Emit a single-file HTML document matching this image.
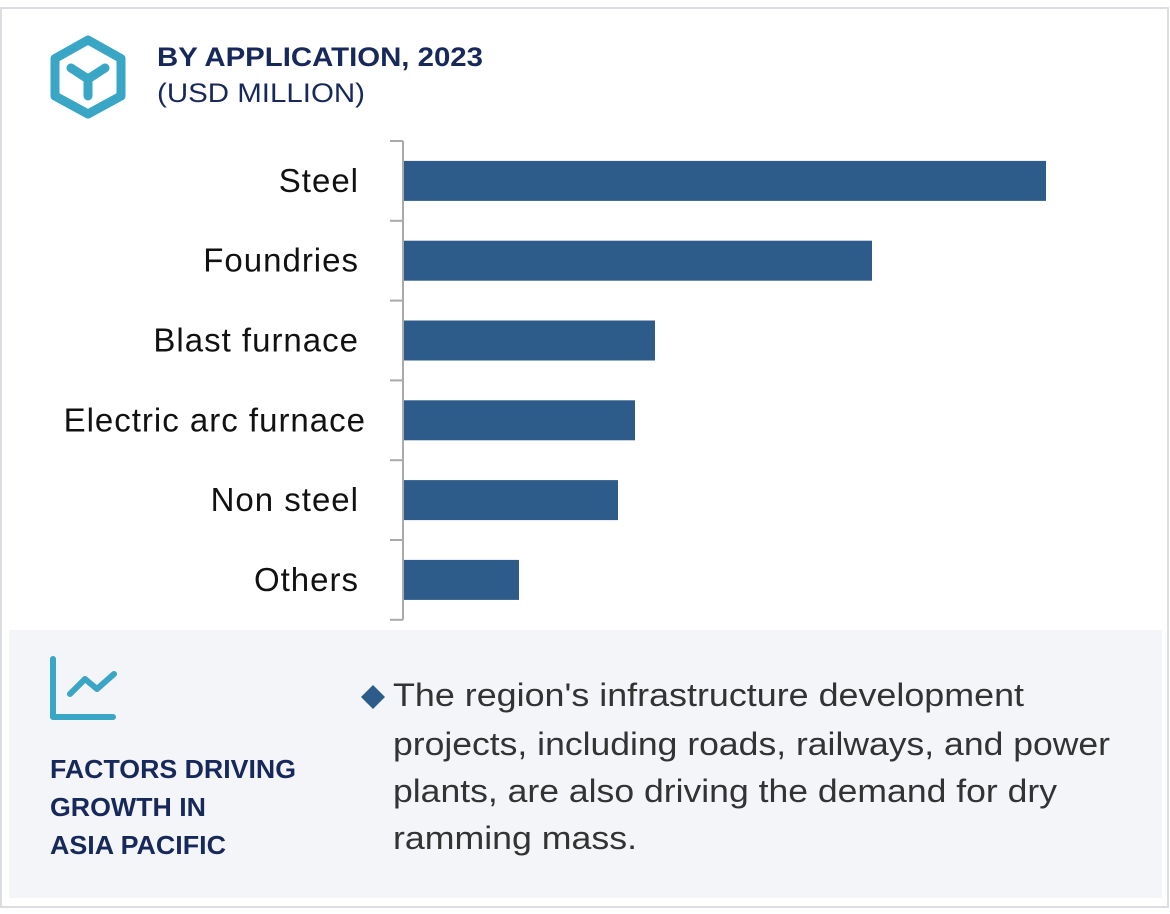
<!DOCTYPE html>
<html><head><meta charset="utf-8"><style>
body{margin:0;width:1170px;height:909px;background:#fff;font-family:"Liberation Sans",sans-serif;overflow:hidden}
</style></head><body>
<svg width="1170" height="909" xmlns="http://www.w3.org/2000/svg">
<rect x="1" y="8" width="1167" height="899" fill="#fff" stroke="#dcdde2" stroke-width="2"/>
<g fill="none" stroke="#3aa6c6" stroke-linecap="round">
<polygon points="88,40 121,58.5 121,96 88,114 55,96 55,58.5" stroke-width="9" stroke-linejoin="round"/>
<path d="M71,68 L88,79 L105,68 M88,79 L88,96" stroke-width="9"/>
</g>
<text x="157" y="66" font-size="27" font-weight="bold" fill="#17295a" textLength="326" lengthAdjust="spacingAndGlyphs">BY APPLICATION, 2023</text>
<text x="157" y="102" font-size="27" fill="#17295a" textLength="208" lengthAdjust="spacingAndGlyphs">(USD MILLION)</text>
<g id="plot"></g>
<rect x="9" y="630" width="1153" height="268" fill="#f3f5f9"/>
<g fill="none" stroke="#3aa6c6" stroke-width="6" stroke-linecap="round" stroke-linejoin="round">
<path d="M53,659 L53,717 L113,717"/>
<path d="M70,694 L85,679 L97,689 L114,674"/>
</g>
<text font-size="26" font-weight="bold" fill="#17295a">
<tspan x="50" y="778" textLength="246" lengthAdjust="spacingAndGlyphs">FACTORS DRIVING</tspan><tspan x="50" y="816" textLength="156" lengthAdjust="spacingAndGlyphs">GROWTH IN</tspan><tspan x="50" y="854" textLength="176" lengthAdjust="spacingAndGlyphs">ASIA PACIFIC</tspan></text>
<polygon points="373,685 385,697 373,709 361,697" fill="#2d5b8a"/>
<text font-size="32" fill="#333">
<tspan x="393" y="706" textLength="631" lengthAdjust="spacingAndGlyphs">The region's infrastructure development</tspan><tspan x="393" y="755" textLength="717" lengthAdjust="spacingAndGlyphs">projects, including roads, railways, and power</tspan><tspan x="393" y="802" textLength="664" lengthAdjust="spacingAndGlyphs">plants, are also driving the demand for dry</tspan><tspan x="393" y="849" textLength="244" lengthAdjust="spacingAndGlyphs">ramming mass.</tspan></text>
</svg>
<script>
const categories=["Steel","Foundries","Blast furnace","Electric arc furnace","Non steel","Others"];
const values=[643,469,252,232,215,116];
const NS="http://www.w3.org/2000/svg";
const g=document.getElementById('plot');
const x0=403,xMax=1046,yTop=141,band=79.8,barH=40,vMax=643;
const xs=v=>x0+v/vMax*(xMax-x0);
const yb=i=>yTop+i*band;
function mk(t,a){const e=document.createElementNS(NS,t);for(const k in a)e.setAttribute(k,a[k]);g.appendChild(e);return e;}
categories.forEach((c,i)=>{
 const r=mk('rect',{x:x0,y:yb(i)+band/2-barH/2,width:xs(values[i])-x0,height:barH,fill:'#2d5b8a'});
 
 
 const t=mk('text',{x:c.length>15?366:359,y:yb(i)+band/2+11,'font-size':33,'letter-spacing':1,fill:'#111','text-anchor':'end'});
 t.textContent=c;
 
 
});
const ax=mk('line',{x1:x0,x2:x0,y1:yTop,y2:yb(categories.length),stroke:'#aaa','stroke-width':2});


for(let i=0;i<=categories.length;i++){
 const tk=mk('line',{x1:390,x2:x0,y1:yb(i),y2:yb(i),stroke:'#aaa','stroke-width':2});
 
 
}
</script>
</body></html>
